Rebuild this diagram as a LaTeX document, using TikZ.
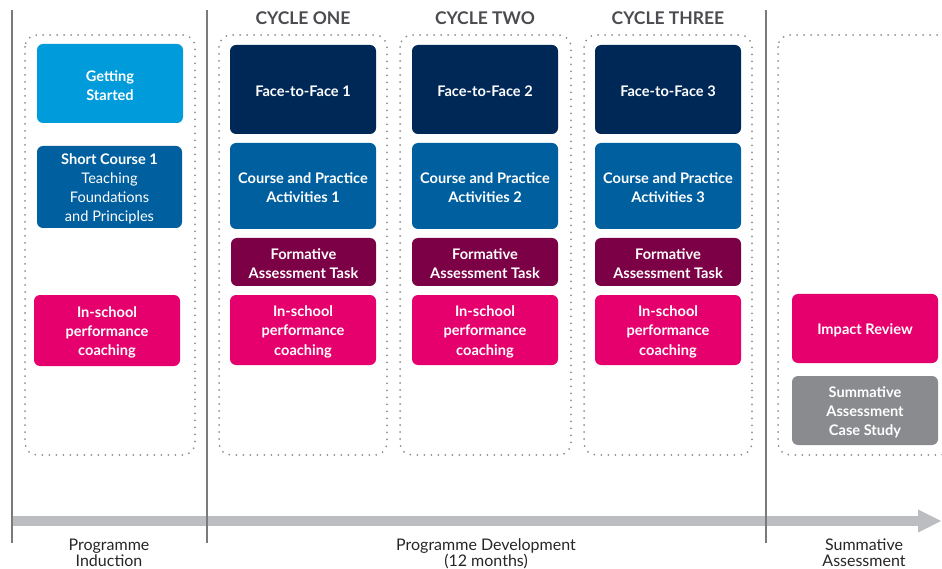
\documentclass[tikz,border=0pt]{standalone}
\usepackage{fontspec}
\setmainfont{Lato}
\definecolor{lblue}{HTML}{009BDB}
\definecolor{mblue}{HTML}{005F9E}
\definecolor{navy}{HTML}{002857}
\definecolor{maroon}{HTML}{7C0045}
\definecolor{magenta}{HTML}{E5006D}
\definecolor{boxgray}{HTML}{898B8E}
\definecolor{headgray}{HTML}{4B4B50}
\definecolor{dotgray}{HTML}{8E8E8E}
\definecolor{linegray}{HTML}{7A7A7A}
\definecolor{arrowgray}{HTML}{BCBDC0}
\tikzset{
  box/.style={rounded corners=6pt, inner sep=0pt, outer sep=0pt},
  boxtext/.style={text=white, align=center, inner sep=0pt, font=\fontsize{14.6}{19.3}\selectfont\bfseries},
  group/.style={draw=dotgray, line width=2pt, dash pattern=on 0pt off 7pt, line cap=round, rounded corners=12pt},
  divider/.style={draw=linegray, line width=1.1pt},
  heading/.style={text=headgray, font=\fontsize{17.5}{19}\selectfont\bfseries},
  phase/.style={text=black!85, align=center, anchor=north, inner sep=0pt, font=\fontsize{16}{15.5}\selectfont},
}
\newcommand{\bx}[7]{%
  \node[box, fill=#6, minimum width={(#4-#2)*1pt}, minimum height={(#5-#3)*1pt}] (#1) at ({(#2+#4)/2},{(#3+#5)/2}) {};
  \node[boxtext] (#1t) at ([yshift=-1.8pt]#1.center) {#7};}
\begin{document}
\begin{tikzpicture}[x=1pt, y=-1pt]
\useasboundingbox (0,0) rectangle (942,569);
% dotted groups
\draw[group] (25,35) rectangle (195,455);
\draw[group] (219,35) rectangle (387,455);
\draw[group] (400,35) rectangle (571,455);
\draw[group] (584,35) rectangle (752,455);
\draw[group] (778,35) rectangle (952,455);
% timeline arrow
\coordinate (tstart) at (12,521);
\coordinate (thead) at (918,521);
\coordinate (ttip) at (941,521);
\draw[arrowgray, line width=10pt] (tstart) -- (thead);
\fill[arrowgray] (918,509.5) -- (ttip) -- (918,532.5) -- cycle;
% dividers
\coordinate (d1t) at (12,10); \coordinate (d1b) at (12,543);
\coordinate (d2t) at (207,10); \coordinate (d2b) at (207,543);
\coordinate (d3t) at (766,10); \coordinate (d3b) at (766,543);
\draw[divider] (d1t) -- (d1b);
\draw[divider] (d2t) -- (d2b);
\draw[divider] (d3t) -- (d3b);
% headings
\node[heading] (h1) at (303,18) {CYCLE ONE};
\node[heading] (h2) at (485,18) {CYCLE TWO};
\node[heading] (h3) at (668,18) {CYCLE THREE};
% induction column
\bx{gs}{37}{44}{183}{123}{lblue}{Getting\\Started}
\bx{sc}{37}{146}{182}{228}{mblue}{Short Course 1\\\mdseries Teaching\\\mdseries Foundations\\\mdseries and Principles}
\bx{is0}{34}{295}{180}{366}{magenta}{In-school\\performance\\coaching}
% cycle one
\bx{ff1}{230}{45}{376}{134}{navy}{Face-to-Face 1}
\bx{cp1}{230}{143}{376}{229}{mblue}{Course and Practice\\Activities 1}
\bx{fa1}{231}{238}{376}{286}{maroon}{Formative\\Assessment Task}
\bx{is1}{230}{295}{376}{365}{magenta}{In-school\\performance\\coaching}
% cycle two
\bx{ff2}{412}{45}{558}{134}{navy}{Face-to-Face 2}
\bx{cp2}{412}{143}{558}{229}{mblue}{Course and Practice\\Activities 2}
\bx{fa2}{412}{238}{558}{286}{maroon}{Formative\\Assessment Task}
\bx{is2}{412}{295}{558}{365}{magenta}{In-school\\performance\\coaching}
% cycle three
\bx{ff3}{595}{45}{741}{134}{navy}{Face-to-Face 3}
\bx{cp3}{595}{143}{741}{229}{mblue}{Course and Practice\\Activities 3}
\bx{fa3}{595}{238}{741}{286}{maroon}{Formative\\Assessment Task}
\bx{is3}{595}{295}{741}{365}{magenta}{In-school\\performance\\coaching}
% summative
\bx{ir}{792}{294}{938}{363}{magenta}{Impact Review}
\bx{sa}{792}{376}{938}{445}{boxgray}{Summative\\Assessment\\Case Study}
% phase labels
\node[phase] (p1) at (109,539) {Programme\\Induction};
\node[phase] (p2) at (486,539) {Programme Development\\(12 months)};
\node[phase] (p3) at (864,539) {Summative\\Assessment};
\end{tikzpicture}
\end{document}
